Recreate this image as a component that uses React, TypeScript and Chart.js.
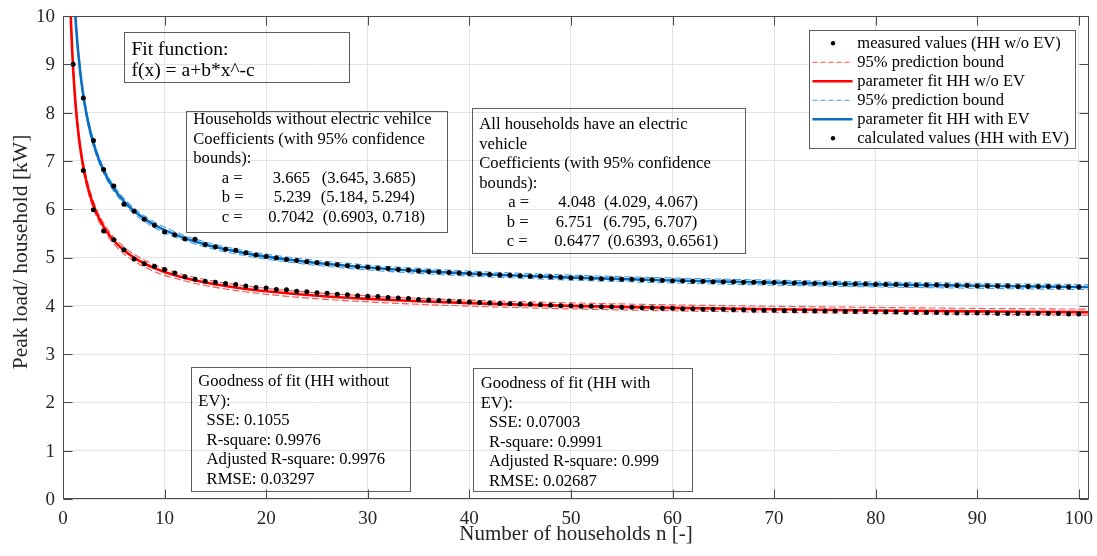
import React, { useEffect, useRef } from "react";
import { Chart, registerables } from "chart.js";

Chart.register(...registerables);

// ---------- data ----------
const HOUSEHOLDS = [
  1, 2, 3, 4, 5, 6, 7, 8, 9, 10, 11, 12, 13, 14, 15, 16, 17, 18, 19, 20,
  21, 22, 23, 24, 25, 26, 27, 28, 29, 30, 31, 32, 33, 34, 35, 36, 37, 38, 39, 40,
  41, 42, 43, 44, 45, 46, 47, 48, 49, 50, 51, 52, 53, 54, 55, 56, 57, 58, 59, 60,
  61, 62, 63, 64, 65, 66, 67, 68, 69, 70, 71, 72, 73, 74, 75, 76, 77, 78, 79, 80,
  81, 82, 83, 84, 85, 86, 87, 88, 89, 90, 91, 92, 93, 94, 95, 96, 97, 98, 99, 100,
];

const MEASURED_NO_EV = [
  9.0, 6.8, 5.99, 5.55, 5.37, 5.16, 4.97, 4.87, 4.82, 4.75,
  4.68, 4.6, 4.55, 4.51, 4.49, 4.46, 4.44, 4.41, 4.38, 4.37,
  4.34, 4.33, 4.3, 4.29, 4.27, 4.26, 4.24, 4.23, 4.21, 4.2,
  4.19, 4.17, 4.16, 4.15, 4.13, 4.12, 4.11, 4.1, 4.09, 4.08,
  4.07, 4.06, 4.05, 4.04, 4.03, 4.03, 4.02, 4.01, 4.0, 4.0,
  3.99, 3.99, 3.98, 3.98, 3.97, 3.97, 3.96, 3.96, 3.95, 3.95,
  3.94, 3.94, 3.93, 3.93, 3.93, 3.92, 3.92, 3.91, 3.91, 3.91,
  3.9, 3.9, 3.9, 3.89, 3.89, 3.89, 3.88, 3.88, 3.88, 3.87,
  3.87, 3.87, 3.86, 3.86, 3.86, 3.86, 3.85, 3.85, 3.85, 3.85,
  3.85, 3.84, 3.84, 3.84, 3.84, 3.84, 3.84, 3.84, 3.83, 3.83,
];

const CALCULATED_EV = [
  10.8, 8.3, 7.42, 6.82, 6.48, 6.1, 5.96, 5.79, 5.67, 5.53,
  5.47, 5.39, 5.38, 5.27, 5.22, 5.17, 5.15, 5.1, 5.05, 5.02,
  4.99, 4.96, 4.94, 4.91, 4.89, 4.87, 4.85, 4.83, 4.81, 4.8,
  4.78, 4.77, 4.75, 4.74, 4.72, 4.71, 4.7, 4.69, 4.68, 4.67,
  4.66, 4.65, 4.64, 4.63, 4.62, 4.61, 4.61, 4.6, 4.59, 4.58,
  4.58, 4.57, 4.56, 4.56, 4.55, 4.55, 4.54, 4.54, 4.53, 4.52,
  4.52, 4.51, 4.51, 4.5, 4.5, 4.5, 4.49, 4.49, 4.48, 4.48,
  4.48, 4.47, 4.47, 4.46, 4.46, 4.46, 4.45, 4.45, 4.45, 4.44,
  4.44, 4.44, 4.43, 4.43, 4.43, 4.43, 4.42, 4.42, 4.42, 4.41,
  4.41, 4.41, 4.41, 4.4, 4.4, 4.4, 4.4, 4.39, 4.39, 4.39,
];

const FIT_X_NO_EV = [
  0.7, 0.75, 0.8, 0.85, 0.9, 1, 1.1, 1.2, 1.3, 1.4, 1.5, 1.6, 1.8, 2, 2.25, 2.5, 2.75, 3,
  3.5, 4, 4.5, 5, 6, 7, 8, 9, 10, 12, 14, 16, 18, 20, 25, 30, 35, 40, 45, 50, 60, 70, 80, 90, 100, 101,
];
const FIT_NO_EV = [
  10.4, 10.08, 9.795, 9.539, 9.307, 8.904, 8.564, 8.273, 8.02, 7.799, 7.603, 7.428, 7.128, 6.881,
  6.625, 6.413, 6.235, 6.082, 5.833, 5.639, 5.482, 5.352, 5.148, 4.996, 4.876, 4.78, 4.7, 4.576,
  4.482, 4.409, 4.349, 4.3, 4.208, 4.143, 4.093, 4.055, 4.024, 3.998, 3.958, 3.928, 3.904, 3.885,
  3.87, 3.868,
];
const PB_HALF_NO_EV = [
  0.1, 0.1, 0.1, 0.1, 0.1, 0.1, 0.1, 0.1, 0.1, 0.1,
  0.085, 0.085, 0.085, 0.085, 0.085, 0.085, 0.085, 0.085,
  0.07, 0.07, 0.07, 0.07, 0.07, 0.07, 0.07, 0.07, 0.07,
  0.062, 0.062, 0.062, 0.062, 0.062, 0.062, 0.062, 0.062, 0.062, 0.062, 0.062, 0.062, 0.062, 0.062,
  0.062, 0.062, 0.062,
];

const FIT_X_EV = [
  1.1, 1.2, 1.3, 1.4, 1.5, 1.6, 1.8, 2, 2.25, 2.5, 2.75, 3, 3.5, 4, 4.5, 5, 6, 7, 8, 9, 10,
  12, 14, 16, 18, 20, 25, 30, 35, 40, 45, 50, 60, 70, 80, 90, 100, 101,
];
const FIT_EV = [
  10.395, 10.047, 9.744, 9.477, 9.24, 9.027, 8.662, 8.357, 8.041, 7.777, 7.554, 7.362, 7.047,
  6.798, 6.597, 6.428, 6.163, 5.962, 5.804, 5.675, 5.567, 5.398, 5.27, 5.169, 5.086, 5.018,
  4.887, 4.794, 4.723, 4.667, 4.622, 4.584, 4.524, 4.479, 4.443, 4.414, 4.39, 4.388,
];
const PB_HALF_EV = [
  0.09, 0.09, 0.09, 0.09,
  0.075, 0.075, 0.075, 0.075, 0.075, 0.075, 0.075, 0.075,
  0.06, 0.06, 0.06, 0.06, 0.06, 0.06, 0.06, 0.06, 0.06,
  0.052, 0.052, 0.052, 0.052, 0.052, 0.052, 0.052, 0.052, 0.052, 0.052, 0.052, 0.052, 0.052,
  0.052, 0.052, 0.052, 0.052,
];

const X_TICKS = [0, 10, 20, 30, 40, 50, 60, 70, 80, 90, 100];
const Y_TICKS = [0, 1, 2, 3, 4, 5, 6, 7, 8, 9, 10];

const X_TITLE = "Number of households n [-]";
const Y_TITLE = "Peak load/ household [kW]";

const LEGEND_LABELS = [
  "measured values (HH w/o EV)",
  "95% prediction bound",
  "parameter fit HH w/o EV",
  "95% prediction bound",
  "parameter fit HH with EV",
  "calculated values (HH with EV)",
];

const FIT_BOX_LINES = ["Fit function:", "f(x) = a+b*x^-c"];

const COEF_NO_EV_HEAD = ["Households without electric vehilce", "Coefficients (with 95% confidence", "bounds):"];
const COEF_EV_HEAD = ["All households have an electric", "vehicle", "Coefficients (with 95% confidence", "bounds):"];
const COEF_NAMES = ["a =", "b =", "c ="];
const COEF_NO_EV_VALUES = ["3.665", "5.239", "0.7042"];
const COEF_NO_EV_BOUNDS = ["(3.645, 3.685)", "(5.184, 5.294)", "(0.6903, 0.718)"];
const COEF_EV_VALUES = ["4.048", "6.751", "0.6477"];
const COEF_EV_BOUNDS = ["(4.029, 4.067)", "(6.795, 6.707)", "(0.6393, 0.6561)"];

const GOF_NO_EV = ["Goodness of fit (HH without", "EV):", "  SSE: 0.1055", "  R-square: 0.9976", "  Adjusted R-square: 0.9976", "  RMSE: 0.03297"];
const GOF_EV = ["Goodness of fit (HH with", "EV):", "  SSE: 0.07003", "  R-square: 0.9991", "  Adjusted R-square: 0.999", "  RMSE: 0.02687"];

// ---------- styling ----------
const SERIF = '"Liberation Serif", "Times New Roman", Times, serif';
const RED = "#ff0000";
const RED_DASH = "rgba(255, 60, 60, 0.9)";
const BLUE = "#0a6ec0";
const BLUE_DASH = "rgba(60, 155, 230, 0.95)";
const AXIS = "#4a4a4a";
const TICK_TXT = "#262626";
const BOX_EDGE = "#5c5c5c";

function txt(
  ctx: CanvasRenderingContext2D,
  s: string,
  x: number,
  y: number,
  size: number,
  align: CanvasTextAlign = "left",
  baseline: CanvasTextBaseline = "alphabetic",
  color = "#000"
) {
  ctx.font = `${size}px ${SERIF}`;
  ctx.textAlign = align;
  ctx.textBaseline = baseline;
  ctx.fillStyle = color;
  ctx.fillText(s, x, y);
}

function rect(ctx: CanvasRenderingContext2D, x0: number, y0: number, x1: number, y1: number, fill?: string) {
  const ax = Math.round(x0) + 0.5;
  const ay = Math.round(y0) + 0.5;
  const bx = Math.round(x1) + 0.5;
  const by = Math.round(y1) + 0.5;
  if (fill) {
    ctx.fillStyle = fill;
    ctx.fillRect(ax, ay, bx - ax, by - ay);
  }
  ctx.strokeStyle = BOX_EDGE;
  ctx.lineWidth = 1;
  ctx.setLineDash([]);
  ctx.strokeRect(ax, ay, bx - ax, by - ay);
}

const decorPlugin = {
  id: "decor",
  afterDraw(chart: any) {
    const ctx: CanvasRenderingContext2D = chart.ctx;
    const { left, right, top, bottom } = chart.chartArea;
    const xs = chart.scales.x;
    const ys = chart.scales.y;
    ctx.save();

    // axes box
    ctx.strokeStyle = AXIS;
    ctx.lineWidth = 1;
    ctx.setLineDash([]);
    const L = Math.round(left) + 0.5;
    const R = Math.round(right) - 0.5;
    const T = Math.round(top) + 0.5;
    const B = Math.round(bottom) - 0.5;
    ctx.strokeRect(L, T, R - L, B - T);

    // inward ticks
    const TL = 9;
    ctx.beginPath();
    X_TICKS.forEach((v) => {
      const px = Math.round(xs.getPixelForValue(v)) + 0.5;
      ctx.moveTo(px, B);
      ctx.lineTo(px, B - TL);
      ctx.moveTo(px, T);
      ctx.lineTo(px, T + TL);
    });
    Y_TICKS.forEach((v) => {
      const py = Math.round(ys.getPixelForValue(v)) + 0.5;
      ctx.moveTo(L, py);
      ctx.lineTo(L + TL, py);
      ctx.moveTo(R, py);
      ctx.lineTo(R - TL, py);
    });
    ctx.stroke();

    // tick labels
    X_TICKS.forEach((v) => {
      txt(ctx, String(v), xs.getPixelForValue(v), bottom + 20, 19, "center", "middle", TICK_TXT);
    });
    Y_TICKS.forEach((v) => {
      txt(ctx, String(v), left - 8, ys.getPixelForValue(v) + 1, 19, "right", "middle", TICK_TXT);
    });

    // axis titles
    txt(ctx, X_TITLE, (left + right) / 2, 540, 21, "center", "alphabetic", TICK_TXT);
    ctx.save();
    ctx.translate(27, 252);
    ctx.rotate(-Math.PI / 2);
    txt(ctx, Y_TITLE, 0, 0, 21.5, "center", "alphabetic", TICK_TXT);
    ctx.restore();

    // fit function box
    rect(ctx, 124, 32, 349, 82);
    txt(ctx, FIT_BOX_LINES[0], 131.5, 55, 19.5);
    txt(ctx, FIT_BOX_LINES[1], 131.5, 76, 19.5);

    const FS = 16.6;
    const LH = 19.5;

    // coefficient box (no EV)
    rect(ctx, 186, 111, 447, 232);
    {
      const x0 = 193.3;
      let yb = 124;
      COEF_NO_EV_HEAD.forEach((s) => {
        txt(ctx, s, x0, yb, FS);
        yb += LH;
      });
      const valOff = [79.4, 80.5, 75];
      const bndOff = [128.4, 127.5, 129.4];
      COEF_NAMES.forEach((n, i) => {
        txt(ctx, n, x0 + 28.4, yb, FS);
        txt(ctx, COEF_NO_EV_VALUES[i], x0 + valOff[i], yb, FS);
        txt(ctx, COEF_NO_EV_BOUNDS[i], x0 + bndOff[i], yb, FS);
        yb += LH;
      });
    }

    // coefficient box (EV)
    rect(ctx, 472, 108, 745, 253);
    {
      const x0 = 479.3;
      let yb = 129;
      COEF_EV_HEAD.forEach((s) => {
        txt(ctx, s, x0, yb, FS);
        yb += LH;
      });
      const nameOff = [29, 27.4, 27.4];
      const valOff = [79, 76.4, 75];
      const bndOff = [124.7, 124, 128.4];
      COEF_NAMES.forEach((n, i) => {
        txt(ctx, n, x0 + nameOff[i], yb, FS);
        txt(ctx, COEF_EV_VALUES[i], x0 + valOff[i], yb, FS);
        txt(ctx, COEF_EV_BOUNDS[i], x0 + bndOff[i], yb, FS);
        yb += LH;
      });
    }

    // goodness of fit boxes
    rect(ctx, 191, 367, 410, 491);
    GOF_NO_EV.forEach((s, i) => {
      txt(ctx, s, 198.3, 386 + i * LH, FS);
    });
    rect(ctx, 473, 368, 692, 491);
    GOF_EV.forEach((s, i) => {
      txt(ctx, s, 480.7, 388.3 + i * LH, FS);
    });

    // legend
    rect(ctx, 809, 30, 1075, 148, "#ffffff");
    const rowY = (i: number) => 43.3 + i * 19;
    const lx0 = 812.5;
    const lx1 = 852.5;
    const lineRow = (i: number, color: string, w: number, dash: number[]) => {
      ctx.strokeStyle = color;
      ctx.lineWidth = w;
      ctx.setLineDash(dash);
      ctx.beginPath();
      ctx.moveTo(lx0, rowY(i));
      ctx.lineTo(lx1, rowY(i));
      ctx.stroke();
      ctx.setLineDash([]);
    };
    const dotRow = (i: number) => {
      ctx.fillStyle = "#000";
      ctx.beginPath();
      ctx.arc(833, rowY(i), 2.2, 0, Math.PI * 2);
      ctx.fill();
    };
    dotRow(0);
    lineRow(1, RED_DASH, 1, [5, 3]);
    lineRow(2, RED, 2.6, []);
    lineRow(3, BLUE_DASH, 1, [5, 3]);
    lineRow(4, BLUE, 2.6, []);
    dotRow(5);
    LEGEND_LABELS.forEach((s, i) => {
      txt(ctx, s, 857.3, rowY(i), 16.5, "left", "middle", "#000");
    });

    ctx.restore();
  },
};

export default function App() {
  const canvasRef = useRef<HTMLCanvasElement | null>(null);

  useEffect(() => {
    document.body.style.margin = "0";
    const canvas = canvasRef.current;
    if (!canvas) return;

    const pts = (xsArr: number[], ysArr: number[]) => xsArr.map((x, i) => ({ x, y: ysArr[i] }));
    const band = (xsArr: number[], fit: number[], half: number[], sign: number) =>
      xsArr.map((x, i) => ({ x, y: fit[i] + sign * half[i] }));

    const dotStyle = {
      showLine: false,
      pointRadius: 2.5,
      pointHoverRadius: 2.5,
      pointBackgroundColor: "#000",
      pointBorderWidth: 0,
      clip: 0,
    };
    const lineStyle = (color: string, width: number, dash: number[]) => ({
      showLine: true,
      borderColor: color,
      borderWidth: width,
      borderDash: dash,
      pointRadius: 0,
      pointHoverRadius: 0,
      fill: false,
      cubicInterpolationMode: "monotone" as const,
      clip: 0,
    });

    const chart = new Chart(canvas, {
      type: "scatter",
      data: {
        datasets: [
          { label: LEGEND_LABELS[0], data: pts(HOUSEHOLDS, MEASURED_NO_EV), ...dotStyle },
          { label: LEGEND_LABELS[5], data: pts(HOUSEHOLDS, CALCULATED_EV), ...dotStyle },
          { label: LEGEND_LABELS[2], data: pts(FIT_X_NO_EV, FIT_NO_EV), ...lineStyle(RED, 2.6, []) },
          { label: LEGEND_LABELS[4], data: pts(FIT_X_EV, FIT_EV), ...lineStyle(BLUE, 2.6, []) },
          { label: LEGEND_LABELS[1], data: band(FIT_X_NO_EV, FIT_NO_EV, PB_HALF_NO_EV, 1), ...lineStyle(RED_DASH, 1.1, [7, 3]) },
          { label: LEGEND_LABELS[1], data: band(FIT_X_NO_EV, FIT_NO_EV, PB_HALF_NO_EV, -1), ...lineStyle(RED_DASH, 1.1, [7, 3]) },
          { label: LEGEND_LABELS[3], data: band(FIT_X_EV, FIT_EV, PB_HALF_EV, 1), ...lineStyle(BLUE_DASH, 1.1, [7, 3]) },
          { label: LEGEND_LABELS[3], data: band(FIT_X_EV, FIT_EV, PB_HALF_EV, -1), ...lineStyle(BLUE_DASH, 1.1, [7, 3]) },
        ],
      },
      options: {
        animation: false,
        responsive: false,
        maintainAspectRatio: false,
        events: [],
        layout: { padding: { left: 0, top: 16, right: 8, bottom: 0 } },
        plugins: {
          legend: { display: false },
          tooltip: { enabled: false },
          title: { display: false },
        },
        scales: {
          x: {
            type: "linear",
            min: 0,
            max: 101,
            ticks: { stepSize: 10, display: false, includeBounds: false },
            grid: { color: "#e3e3e3", lineWidth: 1, drawTicks: false },
            border: { display: false },
            afterFit: (s: any) => {
              s.height = 57;
            },
          },
          y: {
            type: "linear",
            min: 0,
            max: 10,
            ticks: { stepSize: 1, display: false },
            grid: { color: "#e3e3e3", lineWidth: 1, drawTicks: false },
            border: { display: false },
            afterFit: (s: any) => {
              s.width = 63;
            },
          },
        },
      },
      plugins: [decorPlugin],
    });

    return () => {
      chart.destroy();
    };
  }, []);

  return (
    <div style={{ width: 1097, height: 556, position: "relative", background: "#fff" }}>
      <canvas ref={canvasRef} width={1097} height={556} style={{ display: "block" }} />
    </div>
  );
}
